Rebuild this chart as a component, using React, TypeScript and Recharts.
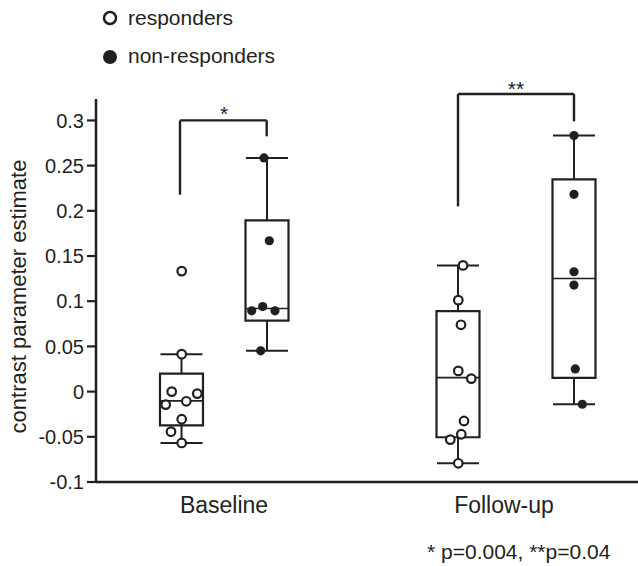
import React from "react";
import {
  ComposedChart,
  XAxis,
  YAxis,
  Scatter,
  ReferenceArea,
  ReferenceLine,
  ReferenceDot,
} from "recharts";

const INK = "#231f20";
const FONT = '"Liberation Sans", Arial, Helvetica, sans-serif';

// category tick positions on the numeric x axis
const categories = ["Baseline", "Follow-up"];
const categoryX = [1.28, 4.08];

const yTicks = [-0.1, -0.05, 0, 0.05, 0.1, 0.15, 0.2, 0.25, 0.3];

// individual subjects (x = jittered position, y = contrast parameter estimate)
const baselineResponders = [
  { x: 0.857, y: 0.1333 },
  { x: 0.857, y: 0.0414 },
  { x: 0.757, y: 0.0 },
  { x: 1.013, y: -0.0022 },
  { x: 0.697, y: -0.0144 },
  { x: 0.903, y: -0.0107 },
  { x: 0.857, y: -0.0306 },
  { x: 0.75, y: -0.0443 },
  { x: 0.857, y: -0.0568 },
];

const baselineNonResponders = [
  { x: 1.68, y: 0.2585 },
  { x: 1.733, y: 0.1669 },
  { x: 1.557, y: 0.0894 },
  { x: 1.667, y: 0.0941 },
  { x: 1.79, y: 0.0894 },
  { x: 1.647, y: 0.0451 },
];

const followupResponders = [
  { x: 3.67, y: 0.1396 },
  { x: 3.623, y: 0.1012 },
  { x: 3.65, y: 0.0739 },
  { x: 3.623, y: 0.0229 },
  { x: 3.753, y: 0.0144 },
  { x: 3.68, y: -0.0325 },
  { x: 3.653, y: -0.0472 },
  { x: 3.543, y: -0.0531 },
  { x: 3.623, y: -0.0793 },
];

const followupNonResponders = [
  { x: 4.78, y: 0.2832 },
  { x: 4.78, y: 0.2182 },
  { x: 4.78, y: 0.1326 },
  { x: 4.78, y: 0.1178 },
  { x: 4.793, y: 0.0251 },
  { x: 4.863, y: -0.014 },
];

// box-plot summaries
const boxes = [
  { x: 0.855, min: -0.0568, q1: -0.0373, median: -0.0103, q3: 0.02, max: 0.0414 },
  { x: 1.71, min: 0.0451, q1: 0.0786, median: 0.0919, q3: 0.1894, max: 0.2585 },
  { x: 3.62, min: -0.0793, q1: -0.0505, median: 0.0155, q3: 0.089, max: 0.1396 },
  { x: 4.78, min: -0.014, q1: 0.0152, median: 0.1252, q3: 0.2348, max: 0.2832 },
];

// significance brackets
const brackets = [
  { x1: 0.84, x2: 1.707, top: 0.3, left: 0.2178, right: 0.2824, mark: "*", markX: 1.28, markY: 0.3071 },
  { x1: 3.62, x2: 4.78, top: 0.3292, left: 0.2049, right: 0.299, mark: "**", markX: 4.2, markY: 0.3348 },
];

const legendItems = ["responders", "non-responders"];
const footnote = "* p=0.004, **p=0.04";
const yLabel = "contrast parameter estimate";

const BOX_HALF = 0.215;
const CAP_HALF = 0.21;

const responders = [...baselineResponders, ...followupResponders];
const nonResponders = [...baselineNonResponders, ...followupNonResponders];

const OpenDot = (props: any) => {
  const { cx, cy } = props;
  if (cx == null || cy == null) return null;
  return <circle cx={cx} cy={cy} r={4.3} fill="#ffffff" stroke={INK} strokeWidth={2.2} />;
};

const FilledDot = (props: any) => {
  const { cx, cy } = props;
  if (cx == null || cy == null) return null;
  return <circle cx={cx} cy={cy} r={4.6} fill={INK} stroke="none" />;
};

const YLabel = (props: any) => {
  const vb = props.viewBox || { x: 0, y: 99, width: 96, height: 383 };
  const cx = vb.x + 26;
  const cy = vb.y + vb.height / 2 + 6;
  return (
    <text
      x={cx}
      y={cy}
      transform={`rotate(-90, ${cx}, ${cy})`}
      textAnchor="middle"
      fill={INK}
      fontSize={22}
      fontFamily={FONT}
    >
      {yLabel}
    </text>
  );
};

const XTick = (props: any) => {
  const { x, y, payload } = props;
  const idx = categoryX.indexOf(payload.value);
  return (
    <text x={x} y={y + 29} textAnchor="middle" fill={INK} fontSize={23} fontFamily={FONT}>
      {idx >= 0 ? categories[idx] : ""}
    </text>
  );
};

export default function App() {
  const elements: React.ReactNode[] = [];

  boxes.forEach((b, i) => {
    elements.push(
      <ReferenceArea
        key={`box-${i}`}
        x1={b.x - BOX_HALF}
        x2={b.x + BOX_HALF}
        y1={b.q1}
        y2={b.q3}
        fill="none"
        fillOpacity={0}
        stroke={INK}
        strokeWidth={2.2}
        ifOverflow="visible"
      />
    );
    elements.push(
      <ReferenceLine key={`med-${i}`} segment={[{ x: b.x - BOX_HALF, y: b.median }, { x: b.x + BOX_HALF, y: b.median }]} stroke={INK} strokeWidth={1.6} ifOverflow="visible" />
    );
    elements.push(
      <ReferenceLine key={`wu-${i}`} segment={[{ x: b.x, y: b.q3 }, { x: b.x, y: b.max }]} stroke={INK} strokeWidth={2} ifOverflow="visible" />
    );
    elements.push(
      <ReferenceLine key={`wl-${i}`} segment={[{ x: b.x, y: b.q1 }, { x: b.x, y: b.min }]} stroke={INK} strokeWidth={2} ifOverflow="visible" />
    );
    elements.push(
      <ReferenceLine key={`cu-${i}`} segment={[{ x: b.x - CAP_HALF, y: b.max }, { x: b.x + CAP_HALF, y: b.max }]} stroke={INK} strokeWidth={2} ifOverflow="visible" />
    );
    elements.push(
      <ReferenceLine key={`cl-${i}`} segment={[{ x: b.x - CAP_HALF, y: b.min }, { x: b.x + CAP_HALF, y: b.min }]} stroke={INK} strokeWidth={2} ifOverflow="visible" />
    );
  });

  brackets.forEach((br, i) => {
    elements.push(
      <ReferenceLine key={`bl-${i}`} segment={[{ x: br.x1, y: br.left }, { x: br.x1, y: br.top }]} stroke={INK} strokeWidth={2.4} ifOverflow="visible" />
    );
    elements.push(
      <ReferenceLine key={`bt-${i}`} segment={[{ x: br.x1, y: br.top }, { x: br.x2, y: br.top }]} stroke={INK} strokeWidth={2.4} ifOverflow="visible" />
    );
    elements.push(
      <ReferenceLine key={`br-${i}`} segment={[{ x: br.x2, y: br.top }, { x: br.x2, y: br.right }]} stroke={INK} strokeWidth={2.4} ifOverflow="visible" />
    );
    elements.push(
      <ReferenceDot
        key={`bm-${i}`}
        x={br.markX}
        y={br.markY}
        r={0}
        fill="none"
        stroke="none"
        ifOverflow="visible"
        label={{ value: br.mark, position: "center", fill: INK, fontSize: 21, fontFamily: FONT }}
      />
    );
  });

  return (
    <div style={{ position: "fixed", left: 0, top: 0, width: 638, height: 566, background: "#ffffff" }}>
      <ComposedChart
        width={638}
        height={566}
        margin={{ top: 99, right: 0, bottom: 0, left: 0 }}
        style={{ fontFamily: FONT }}
      >
        <XAxis
          type="number"
          dataKey="x"
          domain={[0, 5.42]}
          ticks={categoryX}
          tick={<XTick />}
          tickLine={false}
          tickSize={0}
          height={84}
          axisLine={{ stroke: INK, strokeWidth: 2.5 }}
          allowDataOverflow
        />
        <YAxis
          type="number"
          dataKey="y"
          domain={[-0.1, 0.3237]}
          ticks={yTicks}
          interval={0}
          width={96}
          tickSize={9}
          tickMargin={3}
          allowDataOverflow
          axisLine={{ stroke: INK, strokeWidth: 2.5 }}
          tickLine={{ stroke: INK, strokeWidth: 2.2 }}
          tick={{ fill: INK, fontSize: 20, fontFamily: FONT }}
          tickFormatter={(v: number) => String(v)}
          label={{ content: <YLabel /> }}
        />
        {elements}
        <Scatter data={responders} shape={<OpenDot />} isAnimationActive={false} zIndex={1000} />
        <Scatter data={nonResponders} shape={<FilledDot />} isAnimationActive={false} zIndex={1000} />
      </ComposedChart>
      <svg
        width={638}
        height={566}
        style={{ position: "absolute", left: 0, top: 0, pointerEvents: "none" }}
      >
        <circle cx={110} cy={18} r={6} fill="#ffffff" stroke={INK} strokeWidth={2.5} />
        <text x={128} y={25} fill={INK} fontSize={21} fontFamily={FONT}>
          {legendItems[0]}
        </text>
        <circle cx={110} cy={57} r={7} fill={INK} />
        <text x={128} y={63} fill={INK} fontSize={21} fontFamily={FONT}>
          {legendItems[1]}
        </text>
        <text x={427} y={559} fill={INK} fontSize={21} fontFamily={FONT}>
          {footnote}
        </text>
      </svg>
    </div>
  );
}
